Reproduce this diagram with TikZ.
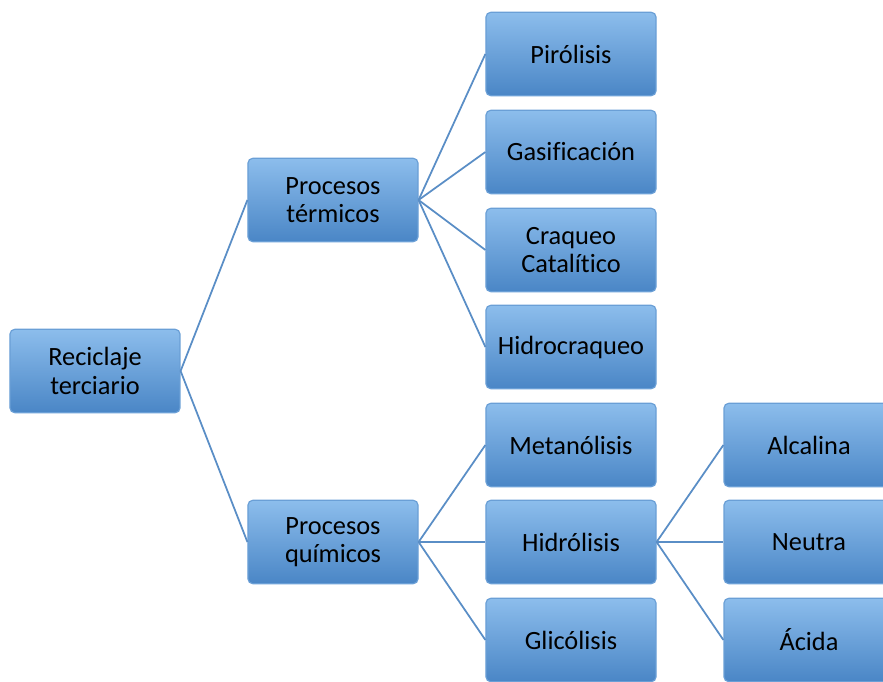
\documentclass[tikz,border=0pt]{standalone}
\usepackage{fontspec}
\setmainfont{Carlito}[Ligatures=NoCommon]
\definecolor{boxtop}{HTML}{8CBDEC}
\definecolor{boxbot}{HTML}{4A86C6}
\definecolor{boxrim}{HTML}{6A9FD6}
\definecolor{linkblue}{HTML}{5A8EC6}
\begin{document}
\begin{tikzpicture}[x=0.03cm,y=-0.03cm,
    thick,
    tree node/.style={rectangle,rounded corners=4pt,draw=boxrim,line width=1pt,
        top color=boxtop,bottom color=boxbot,align=center,
        font=\fontsize{22.5}{24}\selectfont,text=black,
        minimum height=2.5cm,minimum width=5.1cm,inner sep=2pt},
    link/.style={draw=linkblue,line width=1.5pt}]
  \useasboundingbox (0,0) rectangle (883,682);

  \node[tree node] (RT) at (95,371) {Reciclaje\\terciario};
  \node[tree node] (PT) at (333,200) {Procesos\\térmicos};
  \node[tree node] (PQ) at (333,542) {Procesos\\químicos};

  \node[tree node] (PIR) at (571,54) {Pirólisis};
  \node[tree node] (GAS) at (571,152) {Gasificación};
  \node[tree node] (CRA) at (571,250) {Craqueo\\Catalítico};
  \node[tree node] (HCR) at (571,347) {Hidrocraqueo};
  \node[tree node] (MET) at (571,445) {Metanólisis};
  \node[tree node] (HID) at (571,542) {Hidrólisis};
  \node[tree node] (GLI) at (571,640) {Glicólisis};

  \node[tree node] (ALC) at (809,445) {Alcalina};
  \node[tree node] (NEU) at (809,542) {Neutra};
  \node[tree node] (ACI) at (809,640) {Ácida};

  \path[link]
  (RT.east) edge (PT.west)
  (RT.east) edge (PQ.west)
  (PT.east) edge (PIR.west)
  (PT.east) edge (GAS.west)
  (PT.east) edge (CRA.west)
  (PT.east) edge (HCR.west)
  (PQ.east) edge (MET.west)
  (PQ.east) edge (HID.west)
  (PQ.east) edge (GLI.west)
  (HID.east) edge (ALC.west)
  (HID.east) edge (NEU.west)
  (HID.east) edge (ACI.west)
  ;
\end{tikzpicture}
\end{document}
